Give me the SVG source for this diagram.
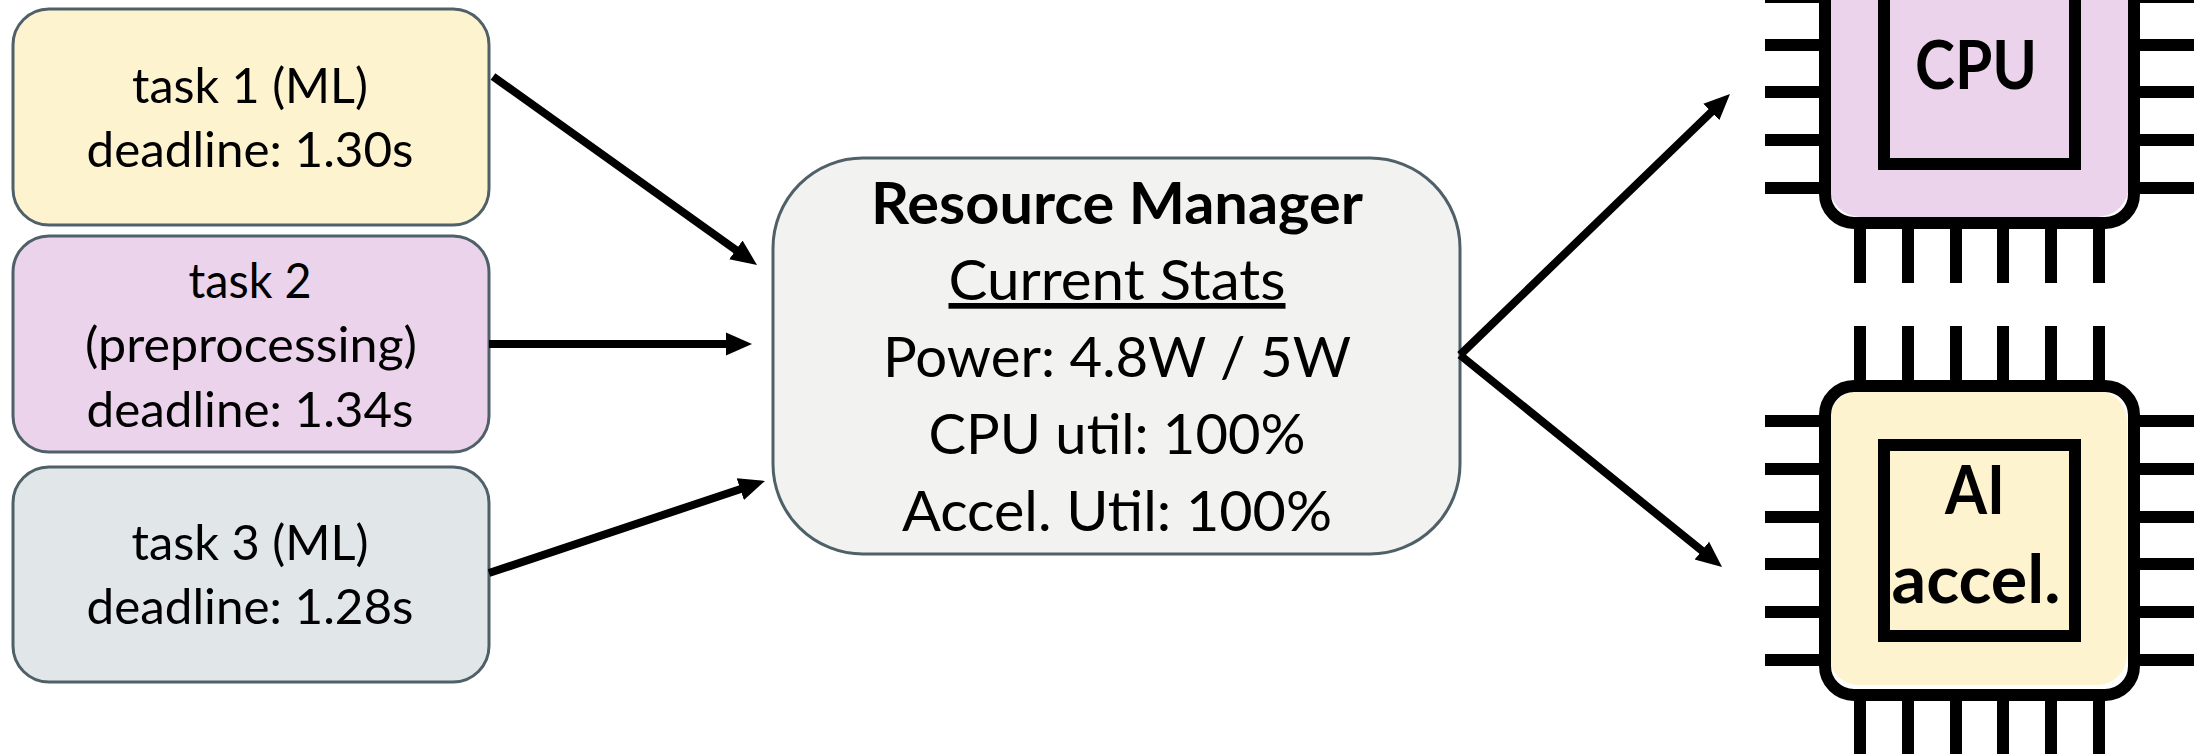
<svg xmlns="http://www.w3.org/2000/svg" width="2198" height="754" viewBox="0 0 2198 754">
<style>
text{font-family:"Lato","Open Sans","Liberation Sans",sans-serif;fill:#000;text-anchor:middle}
.box{stroke:#4f6068;stroke-width:3}
.t{font-size:49px}
.m{font-size:57px}
.b{font-weight:700}
.c{font-size:66px;font-weight:700}
.a{stroke:#000;stroke-width:8;fill:none;marker-end:url(#arrow)}
.k{stroke:#000;stroke-width:12;fill:none}
</style>
<defs>
<marker id="arrow" markerUnits="userSpaceOnUse" markerWidth="30" markerHeight="26" refX="10" refY="13" orient="auto"><path d="M0 1.5L26 13L0 24.5Z" fill="#000"/></marker>
<g id="chipframe">
<rect class="k" x="1825" y="386" width="309" height="309" rx="29"/>
<rect class="k" x="1884" y="445" width="191" height="191"/>
<path class="k" d="M1765 421H1819M1765 469H1819M1765 517H1819M1765 564H1819M1765 612H1819M1765 660H1819M2140 421H2194M2140 469H2194M2140 517H2194M2140 564H2194M2140 612H2194M2140 660H2194M1860 326V380M1908 326V380M1956 326V380M2003 326V380M2051 326V380M2099 326V380M1860 701V755M1908 701V755M1956 701V755M2003 701V755M2051 701V755M2099 701V755"/>
</g>
</defs>
<g id="task1">
<rect class="box" x="13" y="9" width="476" height="216" rx="36" fill="#fdf3cf"/>
<text class="t" x="250" y="103" textLength="236" lengthAdjust="spacingAndGlyphs">task 1 (ML)</text>
<text class="t" x="250" y="167" textLength="327" lengthAdjust="spacingAndGlyphs">deadline: 1.30s</text>
</g>
<g id="task2">
<rect class="box" x="13" y="236" width="476" height="216" rx="36" fill="#ebd3eb"/>
<text class="t" x="250" y="298" textLength="123" lengthAdjust="spacingAndGlyphs">task 2</text>
<text class="t" x="251" y="362" textLength="332" lengthAdjust="spacingAndGlyphs">(preprocessing)</text>
<text class="t" x="250" y="427" textLength="327" lengthAdjust="spacingAndGlyphs">deadline: 1.34s</text>
</g>
<g id="task3">
<rect class="box" x="13" y="467" width="476" height="215" rx="36" fill="#e1e6e9"/>
<text class="t" x="250" y="560" textLength="237" lengthAdjust="spacingAndGlyphs">task 3 (ML)</text>
<text class="t" x="250" y="624" textLength="327" lengthAdjust="spacingAndGlyphs">deadline: 1.28s</text>
</g>
<g id="manager">
<rect class="box" x="773" y="158" width="687" height="396" rx="90" fill="#f2f2f0"/>
<text class="m b" x="1117" y="224" textLength="492" lengthAdjust="spacingAndGlyphs">Resource Manager</text>
<text class="m" x="1117" y="300" textLength="337" lengthAdjust="spacingAndGlyphs" text-decoration="underline">Current Stats</text>
<text class="m" x="1117" y="377" textLength="468" lengthAdjust="spacingAndGlyphs">Power: 4.8W / 5W</text>
<text class="m" x="1117" y="454" textLength="377" lengthAdjust="spacingAndGlyphs">CPU util: 100%</text>
<text class="m" x="1117" y="531" textLength="430" lengthAdjust="spacingAndGlyphs">Accel. Util: 100%</text>
</g>
<g id="cpu">
<rect x="1829" y="-100" width="300" height="317" rx="32" fill="#ebd3eb"/>
<use href="#chipframe" y="-472"/>
<text class="c" x="1976" y="89" textLength="122" lengthAdjust="spacingAndGlyphs">CPU</text>
</g>
<g id="accel">
<rect x="1829" y="391" width="298" height="294" rx="30" fill="#fdf3cf"/>
<use href="#chipframe"/>
<text class="c" x="1975" y="514" textLength="60" lengthAdjust="spacingAndGlyphs">AI</text>
<text class="c" x="1976" y="603" textLength="169" lengthAdjust="spacingAndGlyphs">accel.</text>
</g>
<g id="connectors">
<line class="a" x1="493" y1="76.5" x2="744" y2="255.7"/>
<line class="a" x1="489" y1="344" x2="736" y2="344"/>
<line class="a" x1="489" y1="573" x2="749.8" y2="486"/>
<line class="a" x1="1460" y1="355" x2="1718.5" y2="105.1"/>
<line class="a" x1="1460" y1="355" x2="1709.6" y2="556.9"/>
</g>
</svg>
